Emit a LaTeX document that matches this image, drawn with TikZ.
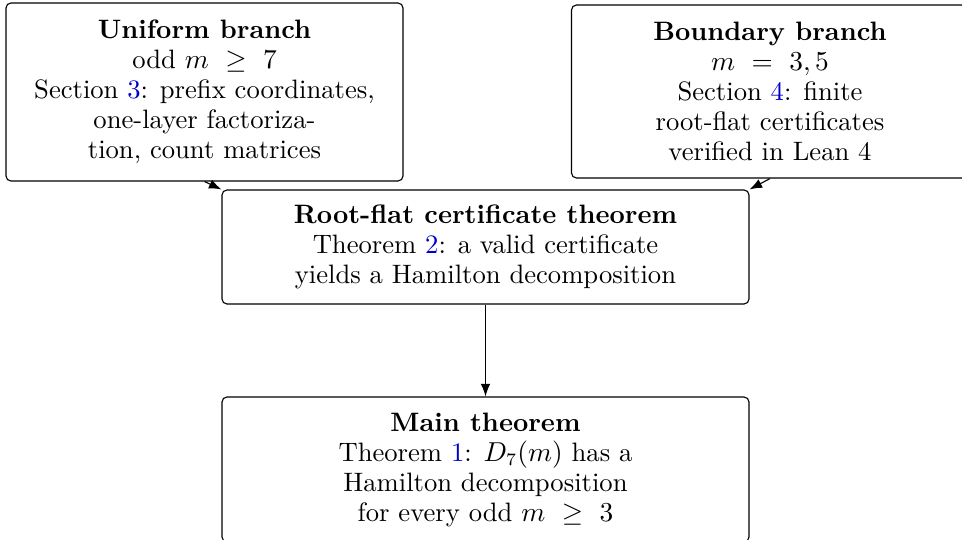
\documentclass[tikz,border=0pt]{standalone}
\usepackage{amsmath}
\usepackage{amssymb}
\usepackage{tikz}
\usetikzlibrary{arrows.meta}
\definecolor{refblue}{rgb}{0,0,0.8}
\newcommand{\refno}[1]{\textcolor{refblue}{#1}}
\tikzset{
	stagebox/.style={draw, rounded corners=2pt, align=center, inner sep=3pt, line width=0.45pt,
		font=\fontsize{10.65}{12}\selectfont},
	branchbox/.style={stagebox, minimum width=158.8pt},
	corebox/.style={stagebox, minimum width=210.8pt},
}

\begin{document}
\begin{tikzpicture}[x=0.4pt,y=-0.4pt,>={Latex[length=5pt,width=3.8pt]},line width=0.45pt]
		\useasboundingbox (0,0) rectangle (962,540);
		\clip (0,0) rectangle (962,540);
		\node[branchbox,minimum height=71.2pt] (unif) at (204.5,92) {\textbf{Uniform branch}\\ odd $m\ \geq\ 7$\\ Section \refno{3}: prefix coordinates,\\ one-layer factoriza-\\ tion, count matrices};
		\node[branchbox,minimum height=69.2pt] (bound) at (770,91.5) {\textbf{Boundary branch}\\ $m\ =\ 3,5$\\ Section \refno{4}: finite\\ root-flat certificates\\ verified in Lean 4};
		\node[corebox,minimum height=45.6pt] (cert) at (485.5,247) {\textbf{Root-flat certificate theorem}\\ Theorem \refno{2}: a valid certificate\\ yields a Hamilton decomposition};
		\node[corebox,minimum height=58pt] (main) at (485.5,469.5) {\textbf{Main theorem}\\ Theorem \refno{1}: $D_7(m)$ has a\\ Hamilton decomposition\\ for every odd $m\ \geq\ 3$};
		\draw[->] (unif.south) -- (cert.north west);
		\draw[->] (bound.south) -- (cert.north east);
		\draw[->] (cert) -- (main);
	\end{tikzpicture}
\end{document}
